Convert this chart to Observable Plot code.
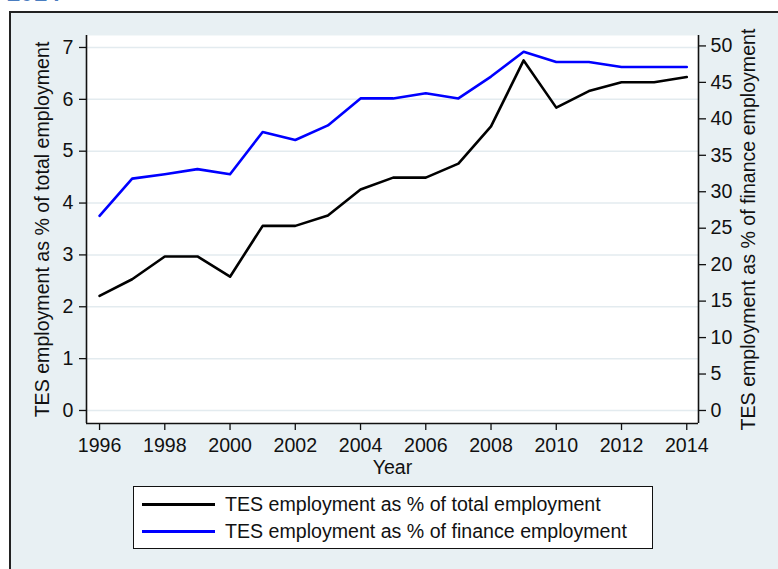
<!DOCTYPE html>
<html>
<head>
<meta charset="utf-8">
<script src="https://cdn.jsdelivr.net/npm/d3@7"></script>
<script src="https://cdn.jsdelivr.net/npm/@observablehq/plot@0.6"></script>
<style>
  html, body { margin: 0; padding: 0; background: #ffffff; }
  #page { position: relative; width: 778px; height: 569px; overflow: hidden; font-family: "Liberation Sans", Arial, sans-serif; }
  #frag { position: absolute; left: 7px; top: -19px; font-size: 24px; line-height: 1; font-weight: bold; color: #4a7dc0; }
  #box { position: absolute; left: 9px; top: 11px; width: 820px; height: 620px; border: 2px solid #222; background: #e8f0f3; }
  #chart { position: absolute; left: 0; top: 0; }
  #legend { position: absolute; left: 133px; top: 486px; width: 518px; height: 61px; background: #fff; border: 1.5px solid #111; }
  .row { position: absolute; left: 0; height: 20px; display: flex; align-items: center; font-size: 19.6px; color: #111; white-space: nowrap; }
  .sw { width: 73px; height: 3px; margin-left: 8px; margin-right: 10px; }
</style>
</head>
<body>
<div id="page">
  <div id="frag">2014</div>
  <div id="box"></div>
  <div id="chart"></div>
  <div id="legend"></div>
</div>
<script>
const years = [1996,1997,1998,1999,2000,2001,2002,2003,2004,2005,2006,2007,2008,2009,2010,2011,2012,2013,2014];
const totalPct = [2.21,2.53,2.97,2.97,2.58,3.56,3.56,3.76,4.26,4.49,4.49,4.76,5.48,6.75,5.84,6.16,6.33,6.33,6.43];
const financePct = [26.7,31.8,32.4,33.1,32.4,38.2,37.1,39.1,42.8,42.8,43.5,42.8,45.8,49.2,47.8,47.8,47.1,47.1,47.1];
const xTicks = [1996,1998,2000,2002,2004,2006,2008,2010,2012,2014];
const leftTicks = [0,1,2,3,4,5,6,7];
const rightTicks = [0,5,10,15,20,25,30,35,40,45,50];
const seriesNames = ["TES employment as % of total employment", "TES employment as % of finance employment"];
const seriesColors = ["#000000", "#0000ff"];
const leftTitle = "TES employment as % of total employment";
const rightTitle = "TES employment as % of finance employment";
const xTitle = "Year";

const k = 7.03 / 50; // right-axis units onto left-axis units
const xDom = [1995.60, 2014.36];
const yDom = [-0.251, 7.231];

const rows = years.map((yr, i) => ({year: yr, total: totalPct[i], finance: financePct[i] * k}));

const FS = 19.6;
const chart = Plot.plot({
  width: 778, height: 569,
  marginLeft: 86, marginRight: 80, marginTop: 35, marginBottom: 146,
  style: {background: "transparent", fontFamily: "'Liberation Sans', Arial, sans-serif", fontSize: FS + "px", color: "#111"},
  x: {domain: xDom},
  y: {domain: yDom},
  marks: [
    Plot.frame({fill: "#ffffff", stroke: null}),
    Plot.gridY(leftTicks, {stroke: "#e3ebef", strokeOpacity: 1, strokeWidth: 1.5}),
    Plot.axisY(leftTicks, {anchor: "left", tickSize: 7, tickPadding: 6, label: null, tickFormat: d => String(d), strokeWidth: 1.3}),
    Plot.axisY(rightTicks.map(v => v * k), {anchor: "right", tickSize: 7, tickPadding: 5, label: null, tickFormat: d => String(Math.round(d / k)), strokeWidth: 1.3}),
    Plot.axisX(xTicks, {anchor: "bottom", tickSize: 7, tickPadding: 8, label: null, tickFormat: d => String(d), strokeWidth: 1.3}),
    Plot.ruleX([xDom[0]], {y1: yDom[0], y2: yDom[1], stroke: "#111", strokeWidth: 1.6}),
    Plot.ruleX([xDom[1]], {y1: yDom[0], y2: yDom[1], stroke: "#111", strokeWidth: 1.6}),
    Plot.ruleY([yDom[0]], {x1: xDom[0], x2: xDom[1], stroke: "#111", strokeWidth: 1.6}),
    Plot.line(rows, {x: "year", y: "total", stroke: seriesColors[0], strokeWidth: 2.6}),
    Plot.line(rows, {x: "year", y: "finance", stroke: seriesColors[1], strokeWidth: 2.6}),
    Plot.text([leftTitle], {frameAnchor: "left", textAnchor: "middle", dx: -44, rotate: -90, fontSize: FS, fill: "#111"}),
    Plot.text([rightTitle], {frameAnchor: "right", textAnchor: "middle", dx: 50, rotate: -90, fontSize: FS, fill: "#111"}),
    Plot.text([xTitle], {frameAnchor: "bottom", textAnchor: "middle", dy: 50, fontSize: FS, fill: "#111"})
  ]
});
document.getElementById("chart").appendChild(chart);

const leg = document.getElementById("legend");
seriesNames.forEach((name, i) => {
  const r = document.createElement("div");
  r.className = "row";
  r.style.top = (i === 0 ? 7 : 34) + "px";
  const sw = document.createElement("div");
  sw.className = "sw";
  sw.style.background = seriesColors[i];
  const t = document.createElement("span");
  t.textContent = name;
  r.appendChild(sw); r.appendChild(t);
  leg.appendChild(r);
});
</script>
</body>
</html>
